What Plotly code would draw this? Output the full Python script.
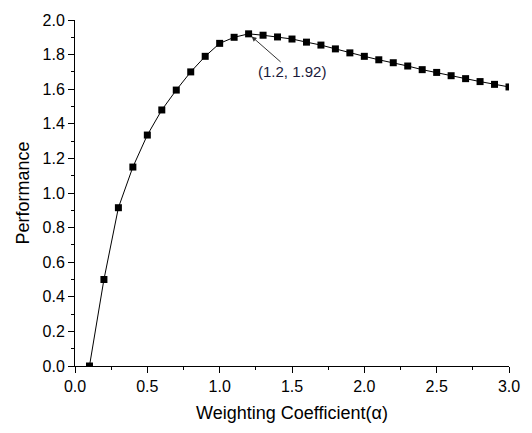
import plotly.graph_objects as go

alpha = [0.1, 0.2, 0.3, 0.4, 0.5, 0.6, 0.7, 0.8, 0.9, 1.0,
         1.1, 1.2, 1.3, 1.4, 1.5, 1.6, 1.7, 1.8, 1.9, 2.0,
         2.1, 2.2, 2.3, 2.4, 2.5, 2.6, 2.7, 2.8, 2.9, 3.0]
performance = [0.0, 0.50, 0.915, 1.15, 1.335, 1.48, 1.595, 1.70, 1.79, 1.865,
               1.90, 1.92, 1.912, 1.902, 1.89, 1.872, 1.855, 1.833, 1.81, 1.79,
               1.77, 1.753, 1.734, 1.713, 1.697, 1.678, 1.661, 1.644, 1.628, 1.613]

peak_x, peak_y = 1.2, 1.92
label_x, label_y = 1.50, 1.70

fig = go.Figure()
fig.add_trace(go.Scatter(
    x=alpha, y=performance, mode="lines+markers",
    line=dict(color="black", width=1),
    marker=dict(symbol="square", size=7, color="black"),
    showlegend=False,
))

fig.add_annotation(
    x=peak_x, y=peak_y, text=f"({peak_x}, {peak_y})",
    showarrow=True, arrowhead=2, arrowsize=1, arrowwidth=1, arrowcolor="#333333",
    axref="x", ayref="y", ax=label_x, ay=label_y, standoff=4,
    font=dict(family="Liberation Sans, Arial", size=15, color="#1a1a3a"),
)

axis_font = dict(family="Liberation Sans, Arial", size=16, color="black")
title_font = dict(family="Liberation Sans, Arial", size=18, color="black")
fig.update_layout(
    width=532, height=433,
    margin=dict(l=75, r=19, t=18, b=67),
    plot_bgcolor="white", paper_bgcolor="white",
    font=axis_font,
    xaxis=dict(
        range=[0, 3], tickmode="array",
        tickvals=[0, 0.5, 1.0, 1.5, 2.0, 2.5, 3.0],
        ticktext=["0.0", "0.5", "1.0", "1.5", "2.0", "2.5", "3.0"],
        showgrid=False, zeroline=False, showline=True, linecolor="black", linewidth=1,
        ticks="outside", ticklen=6, tickcolor="black",
        minor=dict(dtick=0.25, tick0=0, ticks="outside", ticklen=3, tickcolor="black", showgrid=False),
        title=dict(text="Weighting Coefficient(α)", font=title_font, standoff=12),
        tickfont=axis_font,
    ),
    yaxis=dict(
        range=[0, 2], tickmode="array",
        tickvals=[0, 0.2, 0.4, 0.6, 0.8, 1.0, 1.2, 1.4, 1.6, 1.8, 2.0],
        ticktext=["0.0", "0.2", "0.4", "0.6", "0.8", "1.0", "1.2", "1.4", "1.6", "1.8", "2.0"],
        showgrid=False, zeroline=False, showline=True, linecolor="black", linewidth=1,
        ticks="outside", ticklen=6, tickcolor="black",
        minor=dict(dtick=0.1, tick0=0, ticks="outside", ticklen=3, tickcolor="black", showgrid=False),
        title=dict(text="Performance", font=title_font, standoff=8),
        tickfont=axis_font,
    ),
)

fig.write_html("out.html")
